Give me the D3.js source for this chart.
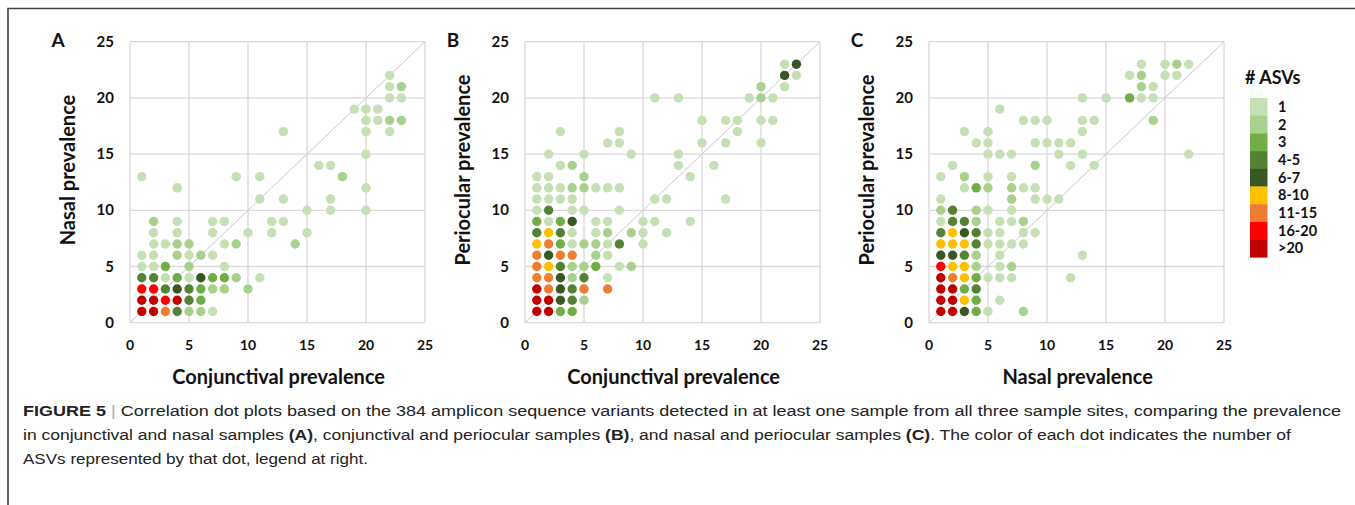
<!DOCTYPE html>
<html>
<head>
<meta charset="utf-8">
<script src="https://cdn.jsdelivr.net/npm/d3@7"></script>
<style>
body { margin: 0; background: #fff; }
svg { display: block; }
</style>
</head>
<body>
<svg width="1355" height="505"></svg>
<script>
// legend categories (# ASVs) and their colours
var asvLabels = ['1', '2', '3', '4-5', '6-7', '8-10', '11-15', '16-20', '>20'];
var asvColors = ['#c5e0b4', '#a9d18e', '#70ad47', '#548235', '#385723', '#ffc000', '#ed7d31', '#ff0000', '#c00000'];

var ticks = [0, 5, 10, 15, 20, 25];

// [x, y, category index]
var panelA = [
  [22,22,0],[22,21,0],[23,21,1],[22,20,0],[23,20,0],
  [19,19,0],[20,19,0],[21,19,0],
  [20,18,0],[21,18,0],[22,18,1],[23,18,1],
  [13,17,0],[20,17,0],[22,17,0],[20,15,0],[16,14,0],[17,14,0],
  [1,13,0],[9,13,0],[11,13,0],[18,13,1],[4,12,0],[20,12,0],
  [11,11,0],[13,11,0],[17,11,0],[15,10,0],[17,10,0],[20,10,0],
  [2,9,1],[4,9,0],[7,9,0],[8,9,0],[12,9,0],[13,9,0],
  [2,8,0],[4,8,0],[7,8,0],[10,8,0],[12,8,0],[15,8,0],
  [2,7,0],[3,7,0],[4,7,1],[5,7,1],[8,7,0],[9,7,1],[14,7,1],
  [1,6,0],[2,6,0],[4,6,1],[5,6,0],[6,6,1],[7,6,0],
  [1,5,0],[2,5,0],[3,5,2],[5,5,1],[8,5,0],
  [1,4,3],[2,4,3],[3,4,0],[4,4,2],[5,4,0],[6,4,4],[7,4,2],[8,4,2],[9,4,1],[11,4,0],
  [1,3,7],[2,3,7],[3,3,3],[4,3,4],[5,3,3],[6,3,2],[7,3,1],[8,3,1],[10,3,1],
  [1,2,8],[2,2,8],[3,2,7],[4,2,8],[5,2,3],[6,2,2],
  [1,1,8],[2,1,8],[3,1,6],[4,1,3],[5,1,1],[6,1,1],[7,1,0]
];

var panelB = [
  [22,23,0],[23,23,4],[22,22,4],[23,22,0],[20,21,1],[22,21,0],
  [11,20,0],[13,20,0],[19,20,0],[20,20,1],[21,20,0],
  [15,18,0],[17,18,0],[18,18,0],[20,18,0],[21,18,0],
  [3,17,0],[8,17,0],[18,17,0],
  [7,16,0],[8,16,0],[15,16,0],[17,16,0],[20,16,0],
  [2,15,0],[5,15,0],[9,15,0],[13,15,0],
  [3,14,0],[4,14,1],[13,14,0],[16,14,0],
  [1,13,0],[2,13,0],[5,13,1],[14,13,0],
  [1,12,0],[2,12,0],[3,12,0],[4,12,1],[5,12,1],[6,12,0],[7,12,0],[8,12,0],
  [1,11,0],[2,11,0],[3,11,0],[4,11,0],[11,11,0],[12,11,0],[17,11,0],
  [1,10,0],[2,10,3],[4,10,0],[5,10,0],[8,10,0],
  [1,9,2],[2,9,0],[3,9,2],[4,9,4],[6,9,0],[7,9,0],[10,9,0],[11,9,0],[14,9,0],
  [1,8,3],[2,8,5],[3,8,3],[4,8,0],[6,8,0],[7,8,1],[9,8,1],[10,8,0],[12,8,0],
  [1,7,5],[2,7,6],[3,7,2],[4,7,0],[5,7,1],[6,7,1],[7,7,0],[8,7,3],[10,7,0],
  [1,6,6],[2,6,4],[3,6,6],[4,6,6],[6,6,1],[7,6,0],
  [1,5,6],[2,5,5],[3,5,3],[4,5,1],[5,5,1],[6,5,2],[8,5,0],[9,5,1],
  [1,4,6],[2,4,6],[3,4,4],[4,4,1],[5,4,3],[7,4,0],
  [1,3,8],[2,3,6],[3,3,4],[4,3,3],[5,3,6],[7,3,6],
  [1,2,8],[2,2,8],[3,2,4],[4,2,3],[5,2,1],
  [1,1,8],[2,1,8],[3,1,2],[4,1,2]
];

var panelC = [
  [18,23,0],[20,23,0],[21,23,1],[22,23,0],
  [17,22,0],[18,22,1],[20,22,0],[21,22,0],[18,21,1],[19,21,0],
  [13,20,0],[15,20,0],[17,20,2],[18,20,0],[19,20,0],[6,19,0],
  [8,18,0],[9,18,0],[10,18,0],[13,18,0],[14,18,0],[19,18,1],
  [3,17,0],[5,17,0],[13,17,0],
  [4,16,0],[5,16,0],[9,16,0],[10,16,0],[11,16,0],[12,16,0],
  [5,15,0],[6,15,0],[7,15,0],[11,15,0],[13,15,0],[22,15,0],
  [2,14,0],[9,14,1],[12,14,0],[14,14,0],
  [1,13,0],[3,13,1],[5,13,0],[7,13,0],
  [3,12,0],[4,12,2],[5,12,1],[7,12,1],[8,12,0],[9,12,0],
  [1,11,0],[7,11,1],[9,11,0],[10,11,0],[11,11,0],
  [1,10,1],[2,10,3],[4,10,1],[5,10,0],[7,10,0],
  [1,9,0],[2,9,3],[3,9,3],[4,9,1],[6,9,0],[7,9,0],[8,9,1],
  [1,8,3],[2,8,5],[3,8,4],[4,8,3],[5,8,0],[6,8,0],[8,8,0],[9,8,0],
  [1,7,5],[2,7,5],[3,7,5],[4,7,3],[5,7,0],[6,7,0],[7,7,0],[8,7,0],
  [1,6,4],[2,6,4],[3,6,3],[4,6,1],[6,6,0],[13,6,0],
  [1,5,7],[2,5,5],[3,5,5],[4,5,1],[6,5,0],[7,5,1],
  [1,4,8],[2,4,6],[3,4,5],[4,4,2],[5,4,0],[6,4,0],[7,4,0],[12,4,0],
  [1,3,8],[2,3,8],[3,3,2],[4,3,3],
  [1,2,8],[2,2,8],[3,2,5],[4,2,2],[6,2,0],
  [1,1,8],[2,1,8],[3,1,4],[4,1,2],[5,1,0],[8,1,1]
];

var panels = [
  { letter: 'A', left: 130, data: panelA, xTitle: 'Conjunctival prevalence', yTitle: 'Nasal prevalence' },
  { letter: 'B', left: 525, data: panelB, xTitle: 'Conjunctival prevalence', yTitle: 'Periocular prevalence' },
  { letter: 'C', left: 929, data: panelC, xTitle: 'Nasal prevalence', yTitle: 'Periocular prevalence' }
];

var svg = d3.select('svg');
var labelFont = 'Lato, "Open Sans", sans-serif';
var plotW = 295, plotTop = 41.7, plotBottom = 322.7;

// outer frame (top and left edges)
svg.append('path')
    .attr('d', 'M8,505 L8,8.5 L1355,8.5')
    .style('fill', 'none')
    .style('stroke', '#444')
    .style('stroke-width', 1.6);

function drawPanel(p) {
    var x = d3.scaleLinear().domain([0, 25]).range([p.left, p.left + plotW]);
    var y = d3.scaleLinear().domain([0, 25]).range([plotBottom, plotTop]);
    var g = svg.append('g');

    // grid
    g.selectAll('line.gx').data(ticks).enter().append('line')
        .attr('x1', function(d) { return x(d); })
        .attr('x2', function(d) { return x(d); })
        .attr('y1', y(0)).attr('y2', y(25))
        .style('stroke', '#d9d9d9').style('stroke-width', 1.3);
    g.selectAll('line.gy').data(ticks).enter().append('line')
        .attr('y1', function(d) { return y(d); })
        .attr('y2', function(d) { return y(d); })
        .attr('x1', x(0)).attr('x2', x(25))
        .style('stroke', '#d9d9d9').style('stroke-width', 1.3);

    // 1:1 line
    g.append('line')
        .attr('x1', x(0)).attr('y1', y(0))
        .attr('x2', x(25)).attr('y2', y(25))
        .style('stroke', '#c8c8c8').style('stroke-width', 1);

    // dots
    g.selectAll('circle').data(p.data).enter().append('circle')
        .attr('cx', function(d) { return x(d[0]); })
        .attr('cy', function(d) { return y(d[1]); })
        .attr('r', 4.7)
        .style('fill', function(d) { return asvColors[d[2]]; });

    // tick labels
    g.selectAll('text.ty').data(ticks).enter().append('text')
        .attr('x', x(0) - 16)
        .attr('y', function(d) { return y(d) + 5; })
        .attr('text-anchor', 'end')
        .style('font-family', labelFont).style('font-weight', 'bold').style('font-size', '15px')
        .style('fill', '#111')
        .text(function(d) { return d; });
    g.selectAll('text.tx').data(ticks).enter().append('text')
        .attr('x', function(d) { return x(d); })
        .attr('y', 350)
        .attr('text-anchor', 'middle')
        .style('font-family', labelFont).style('font-weight', 'bold').style('font-size', '14px')
        .style('fill', '#111')
        .text(function(d) { return d; });

    // axis titles
    g.append('text')
        .attr('x', x(12.6)).attr('y', 384)
        .attr('text-anchor', 'middle')
        .style('font-family', labelFont).style('font-weight', 'bold').style('font-size', '20px')
        .style('fill', '#111')
        .text(p.xTitle);
    g.append('text')
        .attr('transform', 'translate(' + (p.left - 55) + ',' + 170 + ') rotate(-90)')
        .attr('text-anchor', 'middle')
        .style('font-family', labelFont).style('font-weight', 'bold').style('font-size', '20px')
        .style('fill', '#111')
        .text(p.yTitle);

    // panel letter
    g.append('text')
        .attr('x', p.left - 72).attr('y', 47)
        .attr('text-anchor', 'middle')
        .style('font-family', labelFont).style('font-weight', 'bold').style('font-size', '19px')
        .style('fill', '#111')
        .text(p.letter);
}

panels.forEach(drawPanel);

// legend
var legend = svg.append('g');
legend.append('text')
    .attr('x', 1245).attr('y', 84)
    .style('font-family', labelFont).style('font-weight', 'bold').style('font-size', '18px')
    .style('fill', '#111')
    .text('# ASVs');
var boxH = 17.7;
var ly = d3.scaleBand().domain(asvLabels).range([98, 98 + boxH * asvLabels.length]);
legend.selectAll('rect').data(asvLabels).enter().append('rect')
    .attr('x', 1250)
    .attr('y', function(d) { return ly(d); })
    .attr('width', 17.5)
    .attr('height', ly.bandwidth() + 0.3)
    .style('fill', function(d, i) { return asvColors[i]; });
legend.selectAll('text.lab').data(asvLabels).enter().append('text')
    .attr('x', 1278)
    .attr('y', function(d) { return ly(d) + ly.bandwidth() / 2 + 5; })
    .style('font-family', labelFont).style('font-weight', 'bold').style('font-size', '14.5px')
    .style('fill', '#111')
    .text(function(d) { return d; });

// caption
var captionFont = '"Liberation Sans", Arial, sans-serif';
var cap = svg.append('g')
    .style('font-family', captionFont).style('font-size', '15.5px').style('fill', '#222');

var l1 = cap.append('text').attr('x', 23).attr('y', 416).attr('textLength', 1318).attr('lengthAdjust', 'spacingAndGlyphs');
l1.append('tspan').style('font-weight', 'bold').text('FIGURE 5');
l1.append('tspan').style('fill', '#aaa').text(' | ');
l1.append('tspan').text('Correlation dot plots based on the 384 amplicon sequence variants detected in at least one sample from all three sample sites, comparing the prevalence');

var l2 = cap.append('text').attr('x', 23).attr('y', 440).attr('textLength', 1268).attr('lengthAdjust', 'spacingAndGlyphs');
l2.append('tspan').text('in conjunctival and nasal samples ');
l2.append('tspan').style('font-weight', 'bold').text('(A)');
l2.append('tspan').text(', conjunctival and periocular samples ');
l2.append('tspan').style('font-weight', 'bold').text('(B)');
l2.append('tspan').text(', and nasal and periocular samples ');
l2.append('tspan').style('font-weight', 'bold').text('(C)');
l2.append('tspan').text('. The color of each dot indicates the number of');

cap.append('text').attr('x', 23).attr('y', 464).attr('textLength', 345).attr('lengthAdjust', 'spacingAndGlyphs')
    .text('ASVs represented by that dot, legend at right.');
</script>
</body>
</html>
